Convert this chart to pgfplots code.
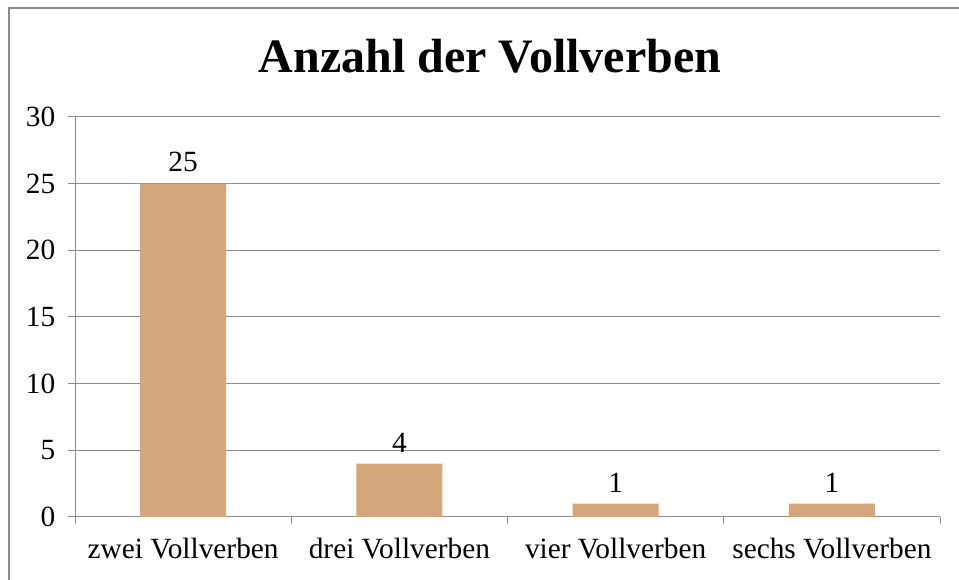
\documentclass[border=0pt]{standalone}
\usepackage{pgfplots}
\pgfplotsset{compat=1.18}
\usepackage{fontspec}
\setmainfont{Liberation Serif}
\definecolor{barc}{HTML}{D4A67A}
\definecolor{axc}{HTML}{8C8C8C}
\begin{document}
\begin{tikzpicture}
\useasboundingbox (0,0) rectangle (719.25pt,435pt);
\draw[axc, line width=1.5pt] (6.75pt,-10pt) -- (6.75pt,429pt) -- (740pt,429pt);
\node[anchor=base, font=\fontsize{36}{40}\selectfont\bfseries] at (367.5pt,380.25pt) {Anzahl der Vollverben};
\begin{axis}[
  at={(56.25pt,47.25pt)}, anchor=south west,
  scale only axis, width=648.75pt, height=300pt,
  enlargelimits=false,
  ymin=0, ymax=30, ytick={0,5,...,30},
  xmin=-0.5, xmax=3.5, xtick={0,1,2,3},
  xticklabels={zwei Vollverben, drei Vollverben, vier Vollverben, sechs Vollverben},
  major x tick style={draw=none},
  minor xtick={-0.5,0.5,1.5,2.5,3.5},
  ymajorgrids, grid style={axc, line width=0.75pt},
  axis x line*=bottom, axis y line*=left,
  axis line style={axc, line width=0.75pt},
  tick style={axc, line width=0.75pt},
  tick align=outside, major tick length=5.25pt, minor tick length=5.25pt,
  ybar, bar width=64.5pt,
  nodes near coords,
  every node near coord/.append style={font=\fontsize{22}{26}\selectfont, black, yshift=5pt},
  ticklabel style={font=\fontsize{22}{26}\selectfont},
  xticklabel style={yshift=-7pt},
  yticklabel style={xshift=-6pt},
  /pgf/number format/assume math mode=true,
]
\addplot[fill=barc, draw=none] coordinates {(0,25) (1,4) (2,1) (3,1)};
\end{axis}
\end{tikzpicture}
\end{document}
